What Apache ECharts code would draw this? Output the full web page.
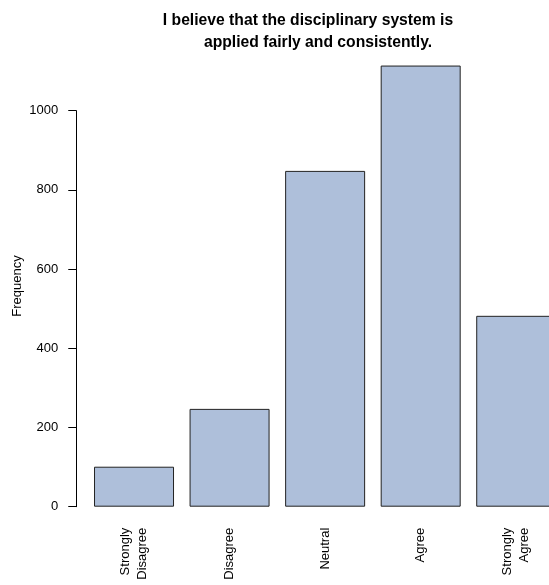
<!DOCTYPE html>
<html>
<head>
<meta charset="utf-8">
<script src="https://cdn.jsdelivr.net/npm/echarts@6/dist/echarts.min.js"></script>
<style>
html,body{margin:0;padding:0;background:#fff;overflow:hidden;width:549px;height:585px;}
#chart{width:564px;height:585px;}
</style>
</head>
<body>
<div id="chart"></div>
<script>
var categories = ['Strongly\nDisagree', 'Disagree', 'Neutral', 'Agree', 'Strongly\nAgree'];
var frequencies = [101, 247, 848, 1114, 482];
var yTicks = [0, 200, 400, 600, 800, 1000];
var titleLines = ['I believe that the disciplinary system is', 'applied fairly and consistently.'];
var yName = 'Frequency';

var FONT = '"Liberation Sans", Arial, Helvetica, sans-serif';
var titleStyle = {fontFamily: FONT, fontWeight: 'bold', fontSize: 15.7, color: '#000', lineHeight: 18};
var chart = echarts.init(document.getElementById('chart'), null, {renderer: 'canvas', width: 564, height: 585});
chart.setOption({
  animation: false,
  backgroundColor: '#ffffff',
  title: [
    {text: titleLines[0], left: 308, top: 12, textAlign: 'center', padding: 0, textStyle: titleStyle},
    {text: titleLines[1], left: 318, top: 34, textAlign: 'center', padding: 0, textStyle: titleStyle}
  ],
  graphic: [{
    type: 'text',
    x: 17,
    y: 286,
    rotation: Math.PI / 2,
    style: {text: yName, font: '13px ' + FONT, fill: '#000', textAlign: 'center', textVerticalAlign: 'middle'}
  }],
  grid: {left: 86.25, right: 0, top: 110.7, bottom: 78.3, containLabel: false},
  xAxis: {
    type: 'category',
    data: categories,
    axisLine: {show: false},
    axisTick: {show: false},
    axisLabel: {rotate: 90, margin: 21, fontFamily: FONT, fontSize: 13, color: '#000', interval: 0, lineHeight: 17}
  },
  yAxis: {
    type: 'value',
    min: yTicks[0],
    max: yTicks[yTicks.length - 1],
    interval: 200,
    offset: 10,
    splitLine: {show: false},
    axisLine: {show: true, lineStyle: {color: '#000', width: 1}},
    axisTick: {show: true, length: 8, lineStyle: {color: '#000', width: 1}},
    axisLabel: {margin: 18, fontFamily: FONT, fontSize: 13, color: '#000', formatter: function (v) { return String(v); }}
  },
  series: [{
    type: 'bar',
    data: frequencies,
    barWidth: 80,
    clip: false,
    itemStyle: {color: '#AEBFDA', borderColor: '#222', borderWidth: 1}
  }]
});
</script>
</body>
</html>
